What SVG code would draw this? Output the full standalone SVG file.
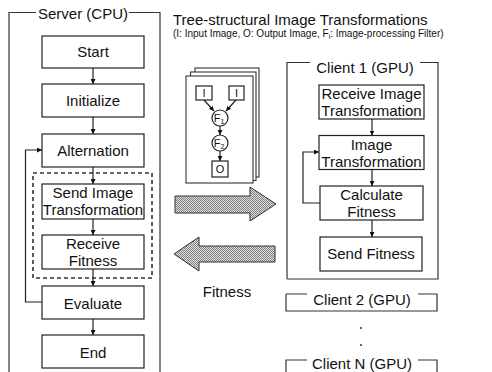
<svg xmlns="http://www.w3.org/2000/svg" width="492" height="372" viewBox="0 0 492 372">
  <style>
    .frame { fill: none; stroke: #333; stroke-width: 1.2; }
    .box { fill: #fff; stroke: #222; stroke-width: 1.2; }
    .lbl { font-family: "Liberation Sans", Arial, sans-serif; font-size: 15px; fill: #111; text-anchor: middle; }
    .small { font-family: "Liberation Sans", Arial, sans-serif; font-size: 10px; fill: #111; }
    .tree { font-family: "Liberation Sans", Arial, sans-serif; font-size: 11px; fill: #111; text-anchor: middle; }
    .flow { fill: none; stroke: #222; stroke-width: 1.2; }
    .card { fill: #fff; stroke: #333; stroke-width: 1.1; }
    .big { fill: url(#dots); stroke: #333; stroke-width: 1; }
  </style>
  <defs>
    <marker id="ah" viewBox="0 0 10 10" refX="10" refY="5" markerWidth="5" markerHeight="5" markerUnits="userSpaceOnUse" orient="auto">
      <path d="M0,0 L10,5 L0,10 z" fill="#111"/>
    </marker>
    <pattern id="dots" width="2" height="2" patternUnits="userSpaceOnUse">
      <rect width="2" height="2" fill="#e0e0e0"/>
      <rect width="1" height="1" fill="#808080"/>
      <rect x="1" y="1" width="1" height="1" fill="#808080"/>
    </pattern>
  </defs>

  <rect width="492" height="372" fill="#fff"/>

  <!-- Server frame -->
  <g id="server">
    <path class="frame" d="M9,372 V12.5 H36 M129,12.5 H160 V372"/>
    <text class="lbl" x="83" y="19">Server (CPU)</text>
  </g>

  <g id="start">
    <rect class="box" x="42" y="36" width="102" height="32"/>
    <text class="lbl" x="93" y="57">Start</text>
  </g>
  <g id="initialize">
    <rect class="box" x="42" y="84" width="102" height="33"/>
    <text class="lbl" x="93" y="106">Initialize</text>
  </g>
  <g id="alternation">
    <rect class="box" x="42" y="134" width="102" height="33"/>
    <text class="lbl" x="93" y="156">Alternation</text>
  </g>
  <g id="comm-group">
    <rect x="33" y="173" width="119" height="105" fill="none" stroke="#333" stroke-width="1.6" stroke-dasharray="4,3"/>
  </g>
  <g id="send-transform">
    <rect class="box" x="42" y="184" width="102" height="35"/>
    <text class="lbl" x="93" y="198">Send Image</text>
    <text class="lbl" x="93" y="215">Transformation</text>
  </g>
  <g id="receive-fitness">
    <rect class="box" x="42" y="235" width="102" height="34"/>
    <text class="lbl" x="93" y="249">Receive</text>
    <text class="lbl" x="93" y="266">Fitness</text>
  </g>
  <g id="evaluate">
    <rect class="box" x="42" y="286" width="102" height="33"/>
    <text class="lbl" x="93" y="309">Evaluate</text>
  </g>
  <g id="end">
    <rect class="box" x="42" y="335" width="102" height="33"/>
    <text class="lbl" x="93" y="358">End</text>
  </g>

  <!-- Titles -->
  <g id="title">
    <text x="173" y="25" font-family="Liberation Sans, Arial, sans-serif" font-size="15" fill="#111">Tree-structural Image Transformations</text>
    <text class="small" x="173" y="37">(I: Input Image, O: Output Image, F<tspan font-size="7" dy="2">i</tspan><tspan dy="-2">: Image-processing Filter)</tspan></text>
  </g>

  <!-- Stack of transformation trees -->
  <g id="tree-stack">
    <rect class="card" x="195" y="68" width="64" height="109"/>
    <rect class="card" x="190.5" y="72" width="65.5" height="108.5"/>
    <rect class="card" x="186" y="76" width="67" height="107"/>
    <rect class="box" x="196" y="86" width="16" height="14"/>
    <text class="tree" x="204" y="97">I</text>
    <rect class="box" x="229" y="86" width="15" height="14"/>
    <text class="tree" x="236.5" y="97">I</text>
    <circle class="box" cx="220" cy="118" r="8"/>
    <text class="tree" x="219" y="122">F<tspan font-size="7" dy="2">1</tspan></text>
    <circle class="box" cx="220" cy="143" r="8"/>
    <text class="tree" x="219" y="147">F<tspan font-size="7" dy="2">2</tspan></text>
    <rect class="box" x="212" y="161" width="16" height="16"/>
    <text class="tree" x="220" y="173">O</text>
    <path class="flow" d="M204,100 L214,111" marker-end="url(#ah)"/>
    <path class="flow" d="M236,100 L226,111" marker-end="url(#ah)"/>
    <path class="flow" d="M220,126 V135" marker-end="url(#ah)"/>
    <path class="flow" d="M220,151 V161" marker-end="url(#ah)"/>
  </g>

  <!-- Transfer arrows -->
  <g id="transfer-arrows">
    <polygon class="big" points="175,196 250,196 250,187 276,204 250,221 250,213 175,213"/>
    <polygon class="big" points="275,246 199,246 199,237 174,254 199,271 199,262 275,262"/>
    <text class="lbl" x="227" y="297">Fitness</text>
  </g>

  <!-- Client 1 -->
  <g id="client1">
    <path class="frame" d="M287,279 V62.5 H310 M420,62.5 H438 V279 H287"/>
    <text class="lbl" x="365" y="73">Client 1 (GPU)</text>
  </g>
  <g id="receive-transform">
    <rect class="box" x="319" y="85" width="105" height="34"/>
    <text class="lbl" x="371.5" y="99">Receive Image</text>
    <text class="lbl" x="371.5" y="116">Transformation</text>
  </g>
  <g id="image-transform">
    <rect class="box" x="319" y="135.5" width="105" height="34"/>
    <text class="lbl" x="371.5" y="149.5">Image</text>
    <text class="lbl" x="371.5" y="166.5">Transformation</text>
  </g>
  <g id="calc-fitness">
    <rect class="box" x="320" y="186" width="103" height="34"/>
    <text class="lbl" x="371.5" y="200">Calculate</text>
    <text class="lbl" x="371.5" y="217">Fitness</text>
  </g>
  <g id="send-fitness">
    <rect class="box" x="320" y="237" width="102" height="34"/>
    <text class="lbl" x="371" y="259">Send Fitness</text>
  </g>

  <!-- Other clients -->
  <g id="client2">
    <path class="frame" d="M286,294 V311 H437 V294 H418 M307,294 H286"/>
    <text class="lbl" x="362" y="305">Client 2 (GPU)</text>
  </g>
  <g id="ellipsis">
    <circle cx="361" cy="328" r="0.9" fill="#222"/>
    <circle cx="361" cy="345" r="0.9" fill="#222"/>
  </g>
  <g id="clientN">
    <path class="frame" d="M286,372 V360 H307 M418,360 H437 V372"/>
    <text class="lbl" x="362" y="369">Client N (GPU)</text>
  </g>

  <!-- Connectors -->
  <g id="connectors">
    <path class="flow" d="M93,68 V84" marker-end="url(#ah)"/>
    <path class="flow" d="M93,117 V134" marker-end="url(#ah)"/>
    <path class="flow" d="M93,167 V184" marker-end="url(#ah)"/>
    <path class="flow" d="M93,219 V235" marker-end="url(#ah)"/>
    <path class="flow" d="M93,269 V286" marker-end="url(#ah)"/>
    <path class="flow" d="M93,319 V335" marker-end="url(#ah)"/>
    <path class="flow" d="M42,302 H25.5 V150 H42" marker-end="url(#ah)"/>
    <path class="flow" d="M372,119 V135.5" marker-end="url(#ah)"/>
    <path class="flow" d="M372,169.5 V186" marker-end="url(#ah)"/>
    <path class="flow" d="M372,220 V237" marker-end="url(#ah)"/>
    <path class="flow" d="M320,203 H303 V152 H319" marker-end="url(#ah)"/>
  </g>
</svg>
